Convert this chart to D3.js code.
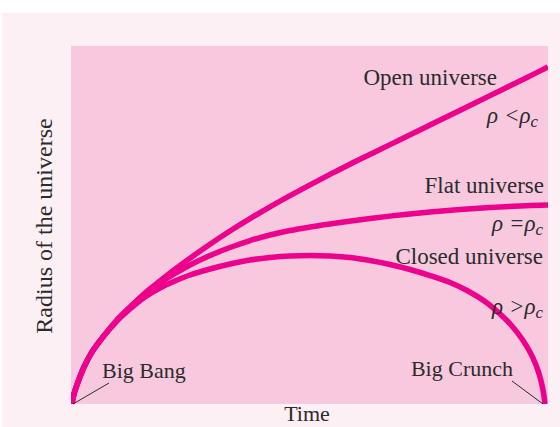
<!DOCTYPE html>
<html>
<head>
<meta charset="utf-8">
<script src="https://cdn.jsdelivr.net/npm/d3@7"></script>
<style>
  html, body { margin: 0; padding: 0; background: #ffffff; }
  svg { display: block; }
  text { font-family: "Liberation Serif", "Times New Roman", serif; fill: #2b2b2b; }
</style>
</head>
<body>
<svg id="chart" width="560" height="427"></svg>
<script>
// Time runs 0..100 from Big Bang to Big Crunch; radius 0..100 spans the frame height.
const openTime    = [0, 0.42, 1.27, 2.54, 4.23, 6.55, 9.30, 12.26, 15.43, 18.60, 21.78, 24.95, 29.18, 33.40, 37.63, 41.86, 46.09, 50.32, 54.55, 58.77, 64.06, 69.34, 74.63, 79.92, 85.20, 90.49, 95.77, 100.63];
const openRadius  = [0, 2.79, 6.13, 10.31, 14.48, 18.66, 23.12, 27.02, 30.92, 34.26, 37.52, 40.61, 44.51, 48.19, 51.64, 54.93, 58.05, 61.06, 63.96, 66.80, 70.19, 73.62, 77.02, 80.45, 83.84, 87.27, 90.67, 93.87];

const flatTime    = [0, 0.42, 1.27, 2.54, 4.23, 6.55, 9.30, 12.26, 15.43, 18.60, 21.78, 24.95, 29.18, 33.40, 37.63, 41.86, 46.09, 50.32, 56.66, 63.00, 69.34, 75.69, 82.03, 88.37, 94.71, 100.63];
const flatRadius  = [0, 2.79, 6.13, 10.31, 14.48, 18.66, 22.98, 26.88, 30.64, 33.70, 36.35, 38.72, 41.36, 43.59, 45.54, 47.08, 48.33, 49.30, 50.56, 51.67, 52.65, 53.48, 54.18, 54.74, 55.15, 55.43];

const closedTime   = [0, 0.42, 1.27, 2.54, 4.23, 6.55, 9.30, 12.26, 15.43, 18.60, 21.78, 24.95, 29.18, 33.40, 37.63, 41.86, 46.09, 50.32, 54.55, 58.77, 63.00, 67.23, 71.46, 75.69, 79.92, 83.51, 87.32, 90.49, 93.02, 95.14, 96.83, 98.10, 98.94, 99.58, 100];
const closedRadius = [0, 2.79, 6.13, 10.31, 14.48, 18.66, 22.84, 26.46, 29.81, 32.31, 34.26, 35.93, 37.60, 39.00, 40.11, 40.81, 41.23, 41.36, 41.23, 40.81, 39.97, 38.86, 37.47, 35.79, 33.84, 31.62, 28.55, 25.07, 21.73, 18.11, 14.48, 10.86, 7.52, 3.90, 0];

const curveNames = ["Open universe", "Flat universe", "Closed universe"];
const densityRelations = ["<", "=", ">"];
const eventNames = ["Big Bang", "Big Crunch"];
const eventTimes = [0, 100];
const xTitle = "Time";
const yTitle = "Radius of the universe";

const svg = d3.select("#chart");
const W = 560, H = 427;
const frame = { left: 71, top: 46, right: 548, bottom: 404 };

const x = d3.scaleLinear().domain([0, 100]).range([72, 545]);
const y = d3.scaleLinear().domain([0, 100]).range([404, 45]);

// Page panel and plot frame
svg.append("rect").attr("x", 2).attr("y", 13).attr("width", W - 2).attr("height", H - 13).attr("fill", "#fdf0f5");
svg.append("rect").attr("x", frame.left).attr("y", frame.top)
  .attr("width", frame.right - frame.left).attr("height", frame.bottom - frame.top)
  .attr("fill", "#f8c9de");

svg.append("clipPath").attr("id", "frameClip").append("rect")
  .attr("x", frame.left).attr("y", frame.top - 5)
  .attr("width", frame.right - frame.left).attr("height", frame.bottom - frame.top + 5);

const line = d3.line()
  .x(d => x(d[0]))
  .y(d => y(d[1]))
  .curve(d3.curveCatmullRom.alpha(0.5));

const series = [
  d3.zip(openTime, openRadius),
  d3.zip(flatTime, flatRadius),
  d3.zip(closedTime, closedRadius)
];

svg.append("g").attr("clip-path", "url(#frameClip)")
  .selectAll("path").data(series).join("path")
  .attr("d", line)
  .attr("fill", "none")
  .attr("stroke", "#ec008c")
  .attr("stroke-width", 5.5)
  .attr("stroke-linecap", "butt");

// Curve names
const nameFont = 23;
const namePos = [[497, 85], [544, 193], [543, 264]];
svg.selectAll("text.name").data(curveNames).join("text")
  .attr("class", "name")
  .attr("x", (d, i) => namePos[i][0])
  .attr("y", (d, i) => namePos[i][1])
  .attr("text-anchor", "end")
  .attr("font-size", nameFont)
  .text(d => d);

// Density conditions: rho <, =, > rho_c
const relPos = [[538, 123], [543, 231], [543, 314]];
densityRelations.forEach((rel, i) => {
  const t = svg.append("text")
    .attr("x", relPos[i][0]).attr("y", relPos[i][1])
    .attr("text-anchor", "end")
    .attr("font-size", 23)
    .attr("font-style", "italic");
  t.append("tspan").text("ρ " + rel + "ρ");
  t.append("tspan").attr("font-size", 17).attr("dy", 4).text("c");
});

// Event labels with leader lines
const eventLabelPos = [[102, 378, "start"], [513, 376, "end"]];
const leader = [[109, 383], [512, 381]];
eventNames.forEach((name, i) => {
  svg.append("text")
    .attr("x", eventLabelPos[i][0]).attr("y", eventLabelPos[i][1])
    .attr("text-anchor", eventLabelPos[i][2])
    .attr("font-size", 22)
    .text(name);
  svg.append("line")
    .attr("x1", x(eventTimes[i]) + (i === 0 ? 1 : -2)).attr("y1", y(0))
    .attr("x2", leader[i][0]).attr("y2", leader[i][1])
    .attr("stroke", "#2b2b2b").attr("stroke-width", 1);
});

// Axis titles
svg.append("text")
  .attr("x", 307).attr("y", 421)
  .attr("text-anchor", "middle")
  .attr("font-size", 22)
  .text(xTitle);

svg.append("text")
  .attr("transform", "translate(52,226) rotate(-90)")
  .attr("text-anchor", "middle")
  .attr("font-size", 24)
  .text(yTitle);
</script>
</body>
</html>
